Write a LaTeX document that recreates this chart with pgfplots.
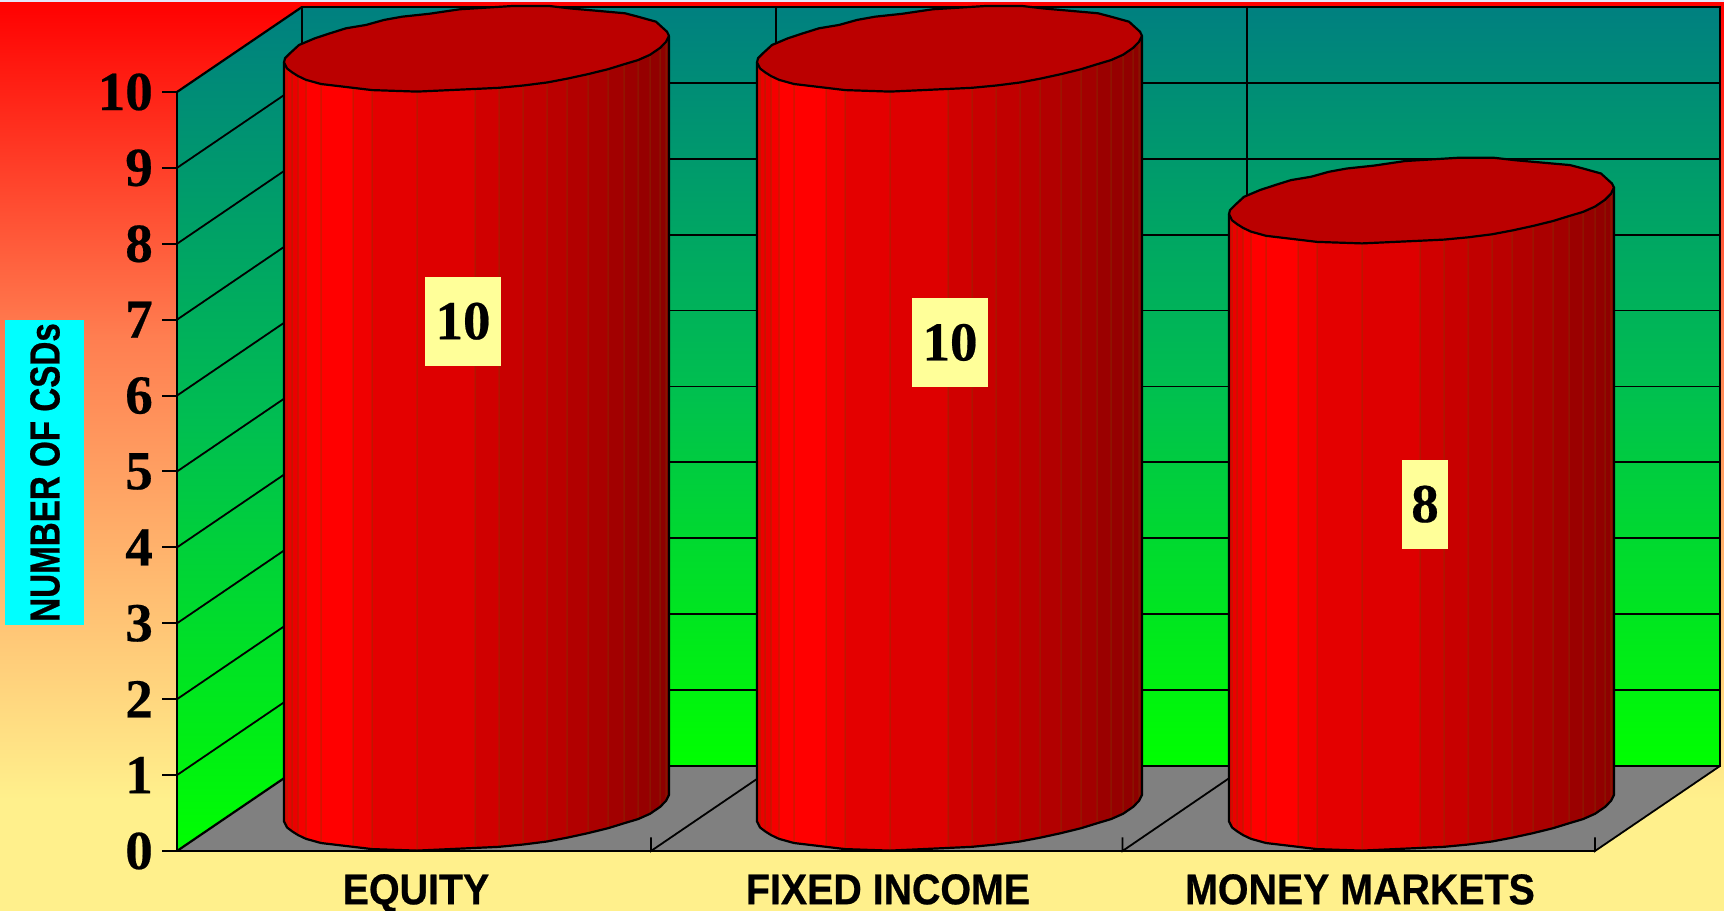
\documentclass[border=0pt]{standalone}
\usepackage{fontspec}
\usepackage{pgfplots}
\pgfplotsset{compat=1.18}
\setmainfont{Liberation Serif}
\newfontfamily\numfont[FakeBold=0.4]{Liberation Serif Bold}
\newfontfamily\xlabfont[FakeStretch=0.915,FakeBold=0.6]{Liberation Sans Bold}
\newfontfamily\ylabfont[FakeStretch=0.79,FakeBold=0.6]{Liberation Sans Bold}
\definecolor{teal0}{RGB}{0,128,128}
\definecolor{midgreen}{RGB}{0,191,80}
\definecolor{green0}{RGB}{0,255,0}
\definecolor{cream}{RGB}{255,240,140}
\definecolor{orange0}{RGB}{255,125,80}
\definecolor{lab}{RGB}{255,255,153}
\definecolor{topface}{RGB}{187,0,0}
\definecolor{stripline}{RGB}{130,60,0}
\definecolor{floorg}{RGB}{128,128,128}
\definecolor{topline}{RGB}{228,230,250}
\definecolor{cyanbox}{RGB}{0,255,255}
% front half of a cylinder outline: offset in px from category centre / height above base in axis units / red level of the strip that ends here
\newcommand\frontlist{-127/.31/235,-122/.26/235,-116/.21/235,-108/.16/245,-93/.105/255,-61/.055/255,-42/.025/240,3/.005/228,61/.04/222,85/.055/208,109/.085/200,133/.125/193,153/.175/186,174/.235/178,194/.30/170,210/.365/162,224/.42/155,236/.49/150,246/.58/145,252/.66/142,255/.74/140}
% back half of the outline
\newcommand\backlist{253/.794,242/.926,224/.992,211/1.037,157/1.10,135/1.133,99/1.133,46/1.09,15/1.03,-12/.992,-30/.949,-48/.883,-68/.839,-84/.773,-99/.708,-115/.619,-124/.51,-129/.444}
\newcommand\cyl[2]{%
  % strips
  \foreach \d/\e/\c [remember=\d as \pd (initially -130),remember=\e as \pe (initially .39)] in \frontlist {%
    \pgfmathsetmacro\xa{#1+\pd}\pgfmathsetmacro\xb{#1+\d}%
    \pgfmathsetmacro\ya{\pe}\pgfmathsetmacro\yb{\e}%
    \pgfmathsetmacro\yc{#2+\e}\pgfmathsetmacro\yd{#2+\pe}%
    \edef\tmp{\noexpand\addplot[fill={rgb,255:red,\c;green,0;blue,0},draw=stripline,line width=.5pt,forget plot] coordinates {(\xa,\ya)(\xb,\yb)(\xb,\yc)(\xa,\yd)} -- cycle;}\tmp
  }%
  % outline of sides and base
  \pgfmathsetmacro\xa{#1-130}\pgfmathsetmacro\yd{#2+.39}%
  \xdef\pts{(\xa,\yd)(\xa,.39)}%
  \foreach \d/\e/\c in \frontlist {%
    \pgfmathsetmacro\xb{#1+\d}\xdef\pts{\pts(\xb,\e)}%
  }%
  \pgfmathsetmacro\xb{#1+255}\pgfmathsetmacro\yb{#2+.74}%
  \xdef\pts{\pts(\xb,\yb)}%
  \edef\tmp{\noexpand\addplot[black,line width=2.2pt,line join=round,forget plot] coordinates {\pts};}\tmp
  % top face
  \pgfmathsetmacro\xa{#1-130}\pgfmathsetmacro\yd{#2+.39}%
  \xdef\pts{(\xa,\yd)}%
  \foreach \d/\e/\c in \frontlist {%
    \pgfmathsetmacro\xb{#1+\d}\pgfmathsetmacro\yb{#2+\e}\xdef\pts{\pts(\xb,\yb)}%
  }%
  \foreach \d/\e in \backlist {%
    \pgfmathsetmacro\xb{#1+\d}\pgfmathsetmacro\yb{#2+\e}\xdef\pts{\pts(\xb,\yb)}%
  }%
  \edef\tmp{\noexpand\addplot[fill=topface,draw=black,line width=2.2pt,line join=round,forget plot] coordinates {\pts} -- cycle;}\tmp
}
\begin{document}
\begin{tikzpicture}
\begin{axis}[
  scale only axis, width=1418pt, height=759pt,
  xmin=177, xmax=1595, ymin=0, ymax=10,
  clip=false, axis on top=true,
  axis x line*=bottom, axis y line*=left,
  axis line style={black,line width=2.2pt,-},
  xtick={416,888,1360},
  xticklabels={EQUITY,FIXED INCOME,MONEY MARKETS},
  x tick style={draw=none},
  ytick={0,1,2,3,4,5,6,7,8,9,10},
  y tick style={black,line width=2pt},
  tick align=outside,
  major tick length=15pt,
  x tick label style={font=\fontsize{43}{46}\selectfont\xlabfont,inner sep=0pt,yshift=-8pt,anchor=north,overlay},
  y tick label style={font=\fontsize{55}{60}\selectfont\numfont,inner sep=0pt,xshift=-9pt},
  /pgf/number format/assume math mode=true,
]
% page background
\addplot[draw=none,fill=cream,forget plot] coordinates {(0,-0.79)(1724,-0.79)(1724,.70)(0,.70)} -- cycle;
\addplot[draw=none,bottom color=cream,top color=orange0,forget plot] coordinates {(0,.672)(1724,.672)(1724,6.825)(0,6.825)} -- cycle;
\addplot[draw=none,bottom color=orange0,top color=red,forget plot] coordinates {(0,6.80)(1724,6.80)(1724,11.212)(0,11.212)} -- cycle;
\addplot[draw=none,fill=topline,forget plot] coordinates {(0,11.186)(1724,11.186)(1724,11.212)(0,11.212)} -- cycle;
% walls and floor
\addplot[draw=none,bottom color=green0,top color=teal0,middle color=midgreen,forget plot] coordinates {(177,0)(302,1.12)(302,11.12)(177,10)} -- cycle;
\addplot[draw=none,bottom color=green0,top color=teal0,middle color=midgreen,forget plot] coordinates {(302,1.12)(1720,1.12)(1720,11.12)(302,11.12)} -- cycle;
\addplot[draw=none,fill=floorg,forget plot] coordinates {(177,0)(1595,0)(1720,1.12)(302,1.12)} -- cycle;
% grid on the left wall
\addplot[black,line width=1.8pt,forget plot] coordinates {(177,1)(302,2.12)};
\addplot[black,line width=1.8pt,forget plot] coordinates {(177,2)(302,3.12)};
\addplot[black,line width=1.8pt,forget plot] coordinates {(177,3)(302,4.12)};
\addplot[black,line width=1.8pt,forget plot] coordinates {(177,4)(302,5.12)};
\addplot[black,line width=1.8pt,forget plot] coordinates {(177,5)(302,6.12)};
\addplot[black,line width=1.8pt,forget plot] coordinates {(177,6)(302,7.12)};
\addplot[black,line width=1.8pt,forget plot] coordinates {(177,7)(302,8.12)};
\addplot[black,line width=1.8pt,forget plot] coordinates {(177,8)(302,9.12)};
\addplot[black,line width=1.8pt,forget plot] coordinates {(177,9)(302,10.12)};
\addplot[black,line width=2.2pt,forget plot] coordinates {(177,0)(302,1.12)};
\addplot[black,line width=2.2pt,forget plot] coordinates {(177,10)(302,11.12)};
% grid on the back wall
\addplot[black,line width=1.8pt,forget plot] coordinates {(302,2.12)(1720,2.12)};
\addplot[black,line width=1.8pt,forget plot] coordinates {(302,3.12)(1720,3.12)};
\addplot[black,line width=1.8pt,forget plot] coordinates {(302,4.12)(1720,4.12)};
\addplot[black,line width=1.8pt,forget plot] coordinates {(302,5.12)(1720,5.12)};
\addplot[black,line width=1.8pt,forget plot] coordinates {(302,6.12)(1720,6.12)};
\addplot[black,line width=1.8pt,forget plot] coordinates {(302,7.12)(1720,7.12)};
\addplot[black,line width=1.8pt,forget plot] coordinates {(302,8.12)(1720,8.12)};
\addplot[black,line width=1.8pt,forget plot] coordinates {(302,9.12)(1720,9.12)};
\addplot[black,line width=1.8pt,forget plot] coordinates {(302,10.12)(1720,10.12)};
\addplot[black,line width=1.8pt,forget plot] coordinates {(776,1.12)(776,11.12)};
\addplot[black,line width=1.8pt,forget plot] coordinates {(1247,1.12)(1247,11.12)};
\addplot[black,line width=2.2pt,forget plot] coordinates {(302,1.12)(302,11.12)(1720,11.12)(1720,1.12)(302,1.12)};
% floor lines and ticks
\addplot[black,line width=1.8pt,forget plot] coordinates {(651,.18)(651,0)(776,1.12)};
\addplot[black,line width=1.8pt,forget plot] coordinates {(1122.5,.18)(1122.5,0)(1247,1.12)};
\addplot[black,line width=1.8pt,forget plot] coordinates {(1595,.18)(1595,0)(1720,1.12)};
% cylinders: category centre, value
\cyl{414}{10}
\cyl{887}{10}
\cyl{1359}{8}
% value labels
\node[fill=lab,minimum width=76pt,minimum height=89pt,inner sep=0pt,font=\fontsize{55}{60}\selectfont\numfont] at (axis cs:463,6.98) {10};
\node[fill=lab,minimum width=76pt,minimum height=89pt,inner sep=0pt,font=\fontsize{55}{60}\selectfont\numfont] at (axis cs:950,6.70) {10};
\node[fill=lab,minimum width=46pt,minimum height=89pt,inner sep=0pt,font=\fontsize{55}{60}\selectfont\numfont] at (axis cs:1425,4.57) {8};
% axis title
\node[fill=cyanbox,minimum width=305pt,minimum height=79pt,inner sep=0pt,rotate=90,font=\fontsize{42}{46}\selectfont\ylabfont] at (axis cs:45,4.987) {NUMBER OF CSDs};
\end{axis}
\end{tikzpicture}
\end{document}
